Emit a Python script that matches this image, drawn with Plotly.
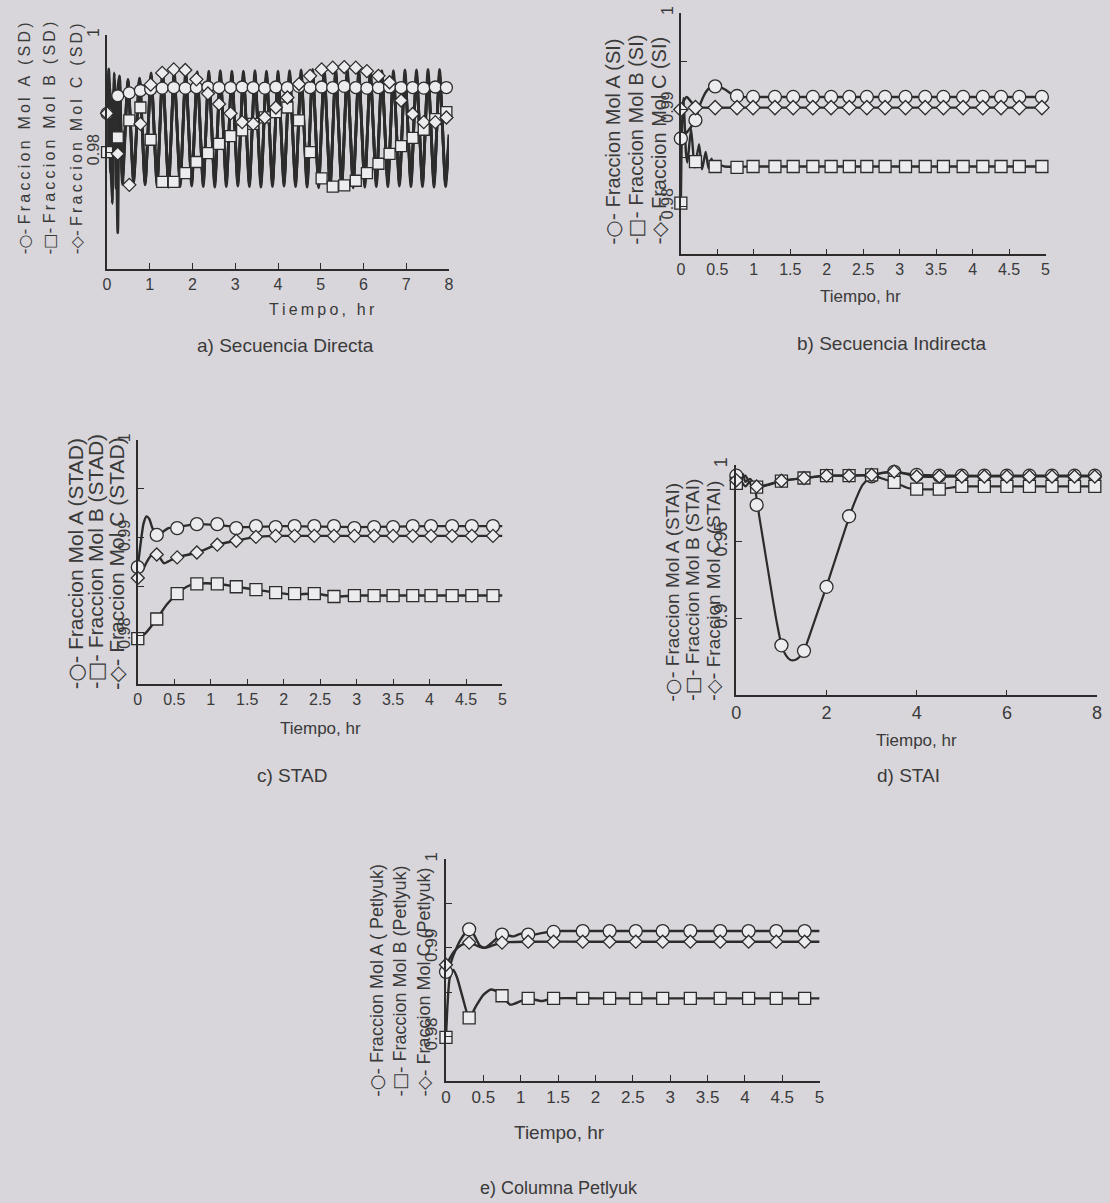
import plotly.graph_objects as go

# ---------------- DATA ----------------
# a) Secuencia Directa (SD)
t_sd = [0, 0.04, 0.08, 0.12, 0.17, 0.21, 0.25, 0.29, 0.36, 0.49, 0.62, 0.76, 0.89,
        1.03, 1.17, 1.30, 1.44, 1.57, 1.71, 1.84, 1.98, 2.11, 2.25, 2.38, 2.52, 2.65, 2.79, 2.92,
        3.06, 3.19, 3.33, 3.46, 3.60, 3.73, 3.87, 4.00, 4.14, 4.27, 4.41, 4.54, 4.68, 4.81, 4.95,
        5.08, 5.22, 5.35, 5.49, 5.62, 5.76, 5.89, 6.03, 6.16, 6.30, 6.43, 6.57, 6.70, 6.84, 6.97,
        7.11, 7.24, 7.38, 7.51, 7.65, 7.78, 7.92, 8.00]
sd_A = [0.9870, 0.9942, 0.9795, 0.9712, 0.9935, 0.9852, 0.9662, 0.9928, 0.9760, 0.9924, 0.9752, 0.9926, 0.9748,
        0.9935, 0.9742, 0.9938, 0.9740, 0.9939, 0.9741, 0.9938, 0.9742,
        0.9937, 0.9741, 0.9938, 0.9740, 0.9939, 0.9741, 0.9938,
        0.9742, 0.9938, 0.9741, 0.9939, 0.9740, 0.9938, 0.9741,
        0.9938, 0.9742, 0.9939, 0.9741, 0.9940, 0.9740, 0.9941, 0.9739,
        0.9942, 0.9738, 0.9942, 0.9738, 0.9942, 0.9739, 0.9941,
        0.9740, 0.9940, 0.9741, 0.9939, 0.9741, 0.9939, 0.9742, 0.9940,
        0.9741, 0.9940, 0.9741, 0.9941, 0.9740, 0.9941, 0.9741, 0.9825]
sd_B = [0.9800, 0.9930, 0.9765, 0.9880, 0.9908, 0.9738, 0.9872, 0.9918, 0.9745, 0.9918, 0.9748, 0.9922, 0.9744,
        0.9930, 0.9747, 0.9932, 0.9746, 0.9931, 0.9748, 0.9932, 0.9747,
        0.9931, 0.9746, 0.9932, 0.9747, 0.9931, 0.9748, 0.9932,
        0.9747, 0.9931, 0.9746, 0.9932, 0.9747, 0.9931, 0.9748,
        0.9932, 0.9747, 0.9933, 0.9746, 0.9934, 0.9745, 0.9935, 0.9744,
        0.9936, 0.9743, 0.9936, 0.9744, 0.9935, 0.9745, 0.9934,
        0.9746, 0.9933, 0.9747, 0.9932, 0.9747, 0.9931, 0.9748, 0.9932,
        0.9747, 0.9932, 0.9746, 0.9933, 0.9747, 0.9932, 0.9746, 0.9818]
sd_C = [0.9865, 0.9925, 0.9890, 0.9780, 0.9922, 0.9790, 0.9905, 0.9930, 0.9755, 0.9921, 0.9758, 0.9924, 0.9750,
        0.9926, 0.9752, 0.9927, 0.9751, 0.9928, 0.9752, 0.9927, 0.9753,
        0.9926, 0.9752, 0.9927, 0.9751, 0.9928, 0.9752, 0.9927,
        0.9753, 0.9926, 0.9752, 0.9927, 0.9751, 0.9928, 0.9752,
        0.9927, 0.9753, 0.9928, 0.9752, 0.9929, 0.9751, 0.9930, 0.9750,
        0.9931, 0.9749, 0.9931, 0.9749, 0.9931, 0.9750, 0.9930,
        0.9751, 0.9929, 0.9752, 0.9928, 0.9752, 0.9927, 0.9753, 0.9928,
        0.9752, 0.9927, 0.9751, 0.9928, 0.9752, 0.9927, 0.9751, 0.9830]
tm_sd = [0, 0.25, 0.52, 0.78, 1.02, 1.29, 1.56, 1.83, 2.09, 2.36, 2.62, 2.89, 3.16, 3.42, 3.69, 3.95,
         4.22, 4.49, 4.75, 5.02, 5.28, 5.55, 5.82, 6.08, 6.35, 6.61, 6.88, 7.15, 7.41, 7.68, 7.94]
sdm_A = [0.9866, 0.9896, 0.9901, 0.9905, 0.9907, 0.9909, 0.9910, 0.9909, 0.9910, 0.9911, 0.9910, 0.9910,
         0.9911, 0.9910, 0.9909, 0.9911, 0.9910, 0.9912, 0.9910, 0.9911, 0.9910, 0.9912, 0.9910, 0.9909,
         0.9910, 0.9911, 0.9910, 0.9910, 0.9909, 0.9911, 0.9910]
sdm_B = [0.9800, 0.9825, 0.9854, 0.9876, 0.9821, 0.9749, 0.9749, 0.9764, 0.9783, 0.9798, 0.9814, 0.9827,
         0.9837, 0.9848, 0.9859, 0.9868, 0.9876, 0.9854, 0.9800, 0.9755, 0.9741, 0.9743, 0.9751, 0.9764,
         0.9780, 0.9797, 0.9810, 0.9824, 0.9838, 0.9856, 0.9868]
sdm_C = [0.9866, 0.9797, 0.9744, 0.9848, 0.9915, 0.9935, 0.9941, 0.9940, 0.9924, 0.9900, 0.9882, 0.9866,
         0.9851, 0.9848, 0.9859, 0.9876, 0.9893, 0.9916, 0.9930, 0.9941, 0.9944, 0.9945, 0.9944, 0.9938,
         0.9930, 0.9919, 0.9888, 0.9865, 0.9851, 0.9851, 0.9859]

# b) Secuencia Indirecta (SI)
si_tA = [0, 0.1, 0.2, 0.25, 0.3, 0.35, 0.4, 0.5, 0.6, 0.7, 0.8, 1.0, 2.0, 3.0, 4.0, 5.0]
si_A = [0.9870, 0.9878, 0.9889, 0.9902, 0.9912, 0.9919, 0.9923, 0.9924, 0.9921, 0.9916, 0.9913,
        0.9913, 0.9913, 0.9913, 0.9913, 0.9913]
si_tB = [0, 0.015, 0.035, 0.05, 0.07, 0.09, 0.14, 0.19, 0.25, 0.29, 0.34, 0.38, 0.42, 0.46, 0.5,
         0.6, 1.0, 2.0, 3.0, 4.0, 5.0]
si_B = [0.9803, 0.9880, 0.9912, 0.9890, 0.9855, 0.9845, 0.9880, 0.9840, 0.9864, 0.9838, 0.9856,
        0.9839, 0.9849, 0.9840, 0.9843, 0.9841, 0.9841, 0.9841, 0.9841, 0.9841, 0.9841]
si_tC = [0, 0.04, 0.08, 0.13, 0.2, 0.3, 1.0, 2.0, 3.0, 4.0, 5.0]
si_C = [0.9900, 0.9909, 0.9913, 0.9909, 0.9903, 0.9902, 0.9902, 0.9902, 0.9902, 0.9902, 0.9902]
tm_si = [0, 0.2, 0.47, 0.77, 0.99, 1.29, 1.54, 1.81, 2.06, 2.31, 2.55, 2.8, 3.08, 3.35, 3.6, 3.87,
         4.14, 4.39, 4.64, 4.95]
sim_A = [0.9870, 0.9889, 0.9924, 0.9914, 0.9913, 0.9913, 0.9913, 0.9913, 0.9913, 0.9913, 0.9913,
         0.9913, 0.9913, 0.9913, 0.9913, 0.9913, 0.9913, 0.9913, 0.9913, 0.9913]
sim_B = [0.9803, 0.9846, 0.9841, 0.9840, 0.9841, 0.9841, 0.9841, 0.9841, 0.9841, 0.9841, 0.9841,
         0.9841, 0.9841, 0.9841, 0.9841, 0.9841, 0.9841, 0.9841, 0.9841, 0.9841]
sim_C = [0.9900, 0.9902, 0.9902, 0.9902, 0.9902, 0.9902, 0.9902, 0.9902, 0.9902, 0.9902, 0.9902,
         0.9902, 0.9902, 0.9902, 0.9902, 0.9902, 0.9902, 0.9902, 0.9902, 0.9902]

# c) STAD
stad_tA = [0, 0.04, 0.08, 0.12, 0.16, 0.2, 0.26, 0.34, 0.42, 0.54, 0.8, 1.1, 1.4, 2.0, 3.0, 4.0, 5.0]
stad_A = [0.9870, 0.9895, 0.9915, 0.9922, 0.9919, 0.9910, 0.9903, 0.9906, 0.9910, 0.9911, 0.9914,
          0.9913, 0.9911, 0.9912, 0.9911, 0.9912, 0.9912]
stad_tB = [0, 0.1, 0.26, 0.4, 0.54, 0.7, 0.81, 1.09, 1.35, 1.62, 1.89, 2.15, 2.42, 2.69, 3.0, 4.0, 5.0]
stad_B = [0.9797, 0.9802, 0.9817, 0.9832, 0.9843, 0.9851, 0.9853, 0.9853, 0.9850, 0.9847, 0.9844,
          0.9842, 0.9843, 0.9840, 0.9841, 0.9841, 0.9841]
stad_tC = [0, 0.03, 0.06, 0.1, 0.16, 0.24, 0.3, 0.36, 0.42, 0.54, 0.81, 1.09, 1.35, 1.62, 1.89, 2.2,
           3.0, 4.0, 5.0]
stad_C = [0.9859, 0.9873, 0.9866, 0.9872, 0.9880, 0.9885, 0.9880, 0.9874, 0.9876, 0.9880, 0.9885,
          0.9893, 0.9897, 0.9901, 0.9902, 0.9902, 0.9902, 0.9902, 0.9902]
tm_stad = [0, 0.26, 0.54, 0.81, 1.09, 1.35, 1.62, 1.89, 2.15, 2.42, 2.69, 2.97, 3.24, 3.5, 3.77,
           4.02, 4.31, 4.58, 4.87]
stadm_A = [0.9870, 0.9903, 0.9910, 0.9914, 0.9914, 0.9910, 0.9912, 0.9911, 0.9912, 0.9912, 0.9912,
           0.9910, 0.9911, 0.9911, 0.9912, 0.9912, 0.9912, 0.9912, 0.9912]
stadm_B = [0.9797, 0.9817, 0.9843, 0.9853, 0.9853, 0.9850, 0.9847, 0.9844, 0.9843, 0.9843, 0.9840,
           0.9841, 0.9841, 0.9841, 0.9841, 0.9841, 0.9841, 0.9841, 0.9841]
stadm_C = [0.9859, 0.9883, 0.9880, 0.9885, 0.9893, 0.9897, 0.9901, 0.9902, 0.9902, 0.9902, 0.9902,
           0.9902, 0.9902, 0.9902, 0.9902, 0.9902, 0.9902, 0.9902, 0.9902]

# d) STAI
stai_tA = [0, 0.05, 0.1, 0.15, 0.2, 0.3, 0.4, 0.45, 0.5, 0.6, 0.7, 0.8, 0.9, 1.0, 1.1, 1.2, 1.3, 1.4,
           1.5, 1.6, 1.8, 2.0, 2.2, 2.4, 2.6, 2.8, 3.0, 3.25, 3.5, 4.0, 5.0, 6.0, 7.0, 8.0]
stai_A = [0.992, 0.996, 0.990, 0.994, 0.989, 0.991, 0.987, 0.978, 0.968, 0.950, 0.932, 0.914, 0.897,
          0.883, 0.876, 0.873, 0.873, 0.875, 0.879, 0.887, 0.904, 0.921, 0.939, 0.957, 0.974, 0.987,
          0.9925, 0.995, 0.9955, 0.9937, 0.993, 0.993, 0.993, 0.993]
stai_tB = [0, 0.05, 0.1, 0.2, 0.3, 0.5, 1.0, 1.5, 2.0, 2.5, 3.0, 3.2, 3.5, 3.8, 4.0, 4.5, 5.0, 5.5,
           6.0, 7.0, 8.0]
stai_B = [0.988, 0.993, 0.990, 0.986, 0.989, 0.9855, 0.9895, 0.9915, 0.993, 0.993, 0.9935, 0.9915,
          0.9886, 0.985, 0.9843, 0.9843, 0.986, 0.986, 0.986, 0.986, 0.986]
stai_tC = [0, 0.05, 0.1, 0.2, 0.3, 0.5, 1.0, 1.5, 2.0, 2.5, 3.0, 3.5, 4.0, 5.0, 6.0, 7.0, 8.0]
stai_C = [0.990, 0.994, 0.991, 0.993, 0.988, 0.986, 0.9897, 0.9914, 0.993, 0.993, 0.9935, 0.9957,
          0.9925, 0.9925, 0.9925, 0.9925, 0.9925]
tm_stai = [0, 0.45, 1.0, 1.5, 2.0, 2.5, 3.0, 3.5, 4.0, 4.5, 5.0, 5.5, 6.0, 6.5, 7.0, 7.5, 7.95]
staim_A = [0.993, 0.974, 0.8826, 0.879, 0.9207, 0.9666, 0.9925, 0.9955, 0.9935, 0.993, 0.993, 0.993,
           0.993, 0.993, 0.993, 0.993, 0.993]
staim_B = [0.988, 0.9855, 0.9895, 0.9915, 0.993, 0.993, 0.9935, 0.9886, 0.9843, 0.9843, 0.986, 0.986,
           0.986, 0.986, 0.986, 0.986, 0.986]
staim_C = [0.990, 0.986, 0.9897, 0.9914, 0.993, 0.993, 0.9935, 0.9957, 0.9925, 0.9925, 0.9925, 0.9925,
           0.9925, 0.9925, 0.9925, 0.9925, 0.9925]

# e) Columna Petlyuk
pet_tA = [0, 0.05, 0.1, 0.2, 0.31, 0.38, 0.45, 0.52, 0.6, 0.7, 0.78, 0.9, 1.0, 1.1, 1.3, 1.5, 2.0,
          3.0, 4.0, 5.0]
pet_A = [0.9873, 0.9880, 0.9892, 0.9910, 0.9921, 0.9914, 0.9903, 0.9900, 0.9905, 0.9912, 0.9915,
         0.9913, 0.9916, 0.9914, 0.9917, 0.9919, 0.9919, 0.9919, 0.9919, 0.9919]
pet_tB = [0, 0.02, 0.05, 0.1, 0.15, 0.22, 0.31, 0.4, 0.5, 0.6, 0.68, 0.75, 0.86, 1.0, 1.1, 1.28, 1.44,
          2.0, 3.0, 4.0, 5.0]
pet_B = [0.9799, 0.9835, 0.9866, 0.9875, 0.9866, 0.9845, 0.9821, 0.9834, 0.9847, 0.9853, 0.9851,
         0.9846, 0.9836, 0.9840, 0.9843, 0.9840, 0.9843, 0.9843, 0.9843, 0.9843, 0.9843]
pet_tC = [0, 0.05, 0.1, 0.2, 0.31, 0.4, 0.5, 0.6, 0.75, 1.1, 2.0, 3.0, 4.0, 5.0]
pet_C = [0.9881, 0.9888, 0.9895, 0.9903, 0.9906, 0.9903, 0.9900, 0.9902, 0.9906, 0.9907, 0.9907,
         0.9907, 0.9907, 0.9907]
tm_pet = [0, 0.31, 0.75, 1.1, 1.44, 1.83, 2.19, 2.54, 2.9, 3.27, 3.67, 4.05, 4.42, 4.8]
petm_A = [0.9873, 0.9921, 0.9915, 0.9915, 0.9918, 0.9919, 0.9919, 0.9919, 0.9919, 0.9919, 0.9919,
          0.9919, 0.9919, 0.9919]
petm_B = [0.9799, 0.9821, 0.9846, 0.9843, 0.9843, 0.9843, 0.9843, 0.9843, 0.9843, 0.9843, 0.9843,
          0.9843, 0.9843, 0.9843]
petm_C = [0.9881, 0.9906, 0.9906, 0.9907, 0.9907, 0.9907, 0.9907, 0.9907, 0.9907, 0.9907, 0.9907,
          0.9907, 0.9907, 0.9907]

# Text
legend_sd = ["Fraccion Mol A (SD)", "Fraccion Mol B (SD)", "Fraccion Mol C (SD)"]
legend_si = ["Fraccion Mol A (SI)", "Fraccion Mol B (SI)", "Fraccion Mol C (SI)"]
legend_stad = ["Fraccion Mol A (STAD)", "Fraccion Mol B (STAD)", "Fraccion Mol C (STAD)"]
legend_stai = ["Fraccion Mol A (STAI)", "Fraccion Mol B (STAI)", "Fraccion Mol C (STAI)"]
legend_pet = ["Fraccion Mol A ( Petlyuk)", "Fraccion Mol B (Petlyuk)", "Fraccion Mol C (Petlyuk)"]
captions = ["a) Secuencia Directa", "b) Secuencia Indirecta", "c) STAD", "d) STAI", "e) Columna Petlyuk"]
x_title = "Tiempo, hr"
xt_8 = [0, 1, 2, 3, 4, 5, 6, 7, 8]
xt_5 = [0, 0.5, 1, 1.5, 2, 2.5, 3, 3.5, 4, 4.5, 5]
xt_8b = [0, 2, 4, 6, 8]
yt_sd = [0.96, 0.98, 1.0]
yl_sd = ["", "0.98", "1"]
yt_fine = [0.975, 0.98, 0.985, 0.99, 0.995, 1.0]
yl_fine = ["", "0.98", "", "0.99", "", "1"]
yt_stai = [0.85, 0.9, 0.95, 1.0]
yl_stai = ["", "0.9", "0.95", "1"]

# ---------------- STYLE / LAYOUT ----------------
W, H = 1110, 1203
BG = "#d8d6da"
INK = "#2c2c2c"
TXT = "#3a3a3a"
FILL = "#ecebee"
FONT = "Arial"
SYMS = ["circle", "square", "diamond"]
LEG_SYM = ["\u25cb", "\u25a1", "\u25c7"]


def spaced(s):
    return "\u2009".join(s)


def fmt(v):
    return ("%g" % v)


def leg_text(k, lab, sp):
    sym = '<span style="font-family:DejaVu Sans">-' + LEG_SYM[k] + '-</span>'
    return sym + " " + (spaced(lab) if sp else lab)


panels = [
    dict(px=(103, 448), py=(27, 263), xr=[0, 8], yr=[0.96, 1.0], xt=xt_8, yt=yt_sd, yl=yl_sd,
         series=[(t_sd, sd_A), (t_sd, sd_B), (t_sd, sd_C)], tm=tm_sd, mk=[sdm_A, sdm_B, sdm_C],
         msize=[12, 11, 10], lw=2.8, tickfont=16, spaced=True,
         legend=legend_sd, legx=[20, 45, 72], legb=250, legfont=16,
         title_xy=(320, 304), title_font=16, cap_xy=(283, 340), cap_font=19),
    dict(px=(682, 1050), py=(5, 248), xr=[0, 5], yr=[0.975, 1.0], xt=xt_5, yt=yt_fine, yl=yl_fine,
         series=[(si_tA, si_A), (si_tB, si_B), (si_tC, si_C)], tm=tm_si, mk=[sim_A, sim_B, sim_C],
         msize=[13, 12, 11], lw=2.4, tickfont=16, spaced=False,
         legend=legend_si, legx=[614, 637, 660], legb=240, legfont=20,
         title_xy=(863, 290), title_font=17, cap_xy=(895, 338), cap_font=19),
    dict(px=(134, 502), py=(435, 681), xr=[0, 5], yr=[0.975, 1.0], xt=xt_5, yt=yt_fine, yl=yl_fine,
         series=[(stad_tA, stad_A), (stad_tB, stad_B), (stad_tC, stad_C)], tm=tm_stad,
         mk=[stadm_A, stadm_B, stadm_C], msize=[13, 12, 10], lw=2.4, tickfont=16, spaced=False,
         legend=legend_stad, legx=[72, 92, 113], legb=688, legfont=21,
         title_xy=(318, 725), title_font=17, cap_xy=(290, 773), cap_font=19),
    dict(px=(738, 1102), py=(460, 692), xr=[0, 8], yr=[0.85, 1.0], xt=xt_8b, yt=yt_stai, yl=yl_stai,
         series=[(stai_tA, stai_A), (stai_tB, stai_B), (stai_tC, stai_C)], tm=tm_stai,
         mk=[staim_A, staim_B, staim_C], msize=[13, 12, 10], lw=2.2, tickfont=18, spaced=False,
         legend=legend_stai, legx=[673, 694, 715], legb=700, legfont=19,
         title_xy=(920, 737), title_font=17, cap_xy=(912, 773), cap_font=19),
    dict(px=(445, 822), py=(857, 1080), xr=[0, 5], yr=[0.975, 1.0], xt=xt_5, yt=yt_fine, yl=yl_fine,
         series=[(pet_tA, pet_A), (pet_tB, pet_B), (pet_tC, pet_C)], tm=tm_pet,
         mk=[petm_A, petm_B, petm_C], msize=[13, 12, 10], lw=2.4, tickfont=17, spaced=False,
         legend=legend_pet, legx=[375, 398, 422], legb=1098, legfont=18,
         title_xy=(560, 1132), title_font=19, cap_xy=(559, 1188), cap_font=18),
]

fig = go.Figure()
annotations = []
layout_axes = {}

for i, p in enumerate(panels):
    sfx = "" if i == 0 else str(i + 1)
    xa, ya = "x" + sfx, "y" + sfx
    for (t, v) in p["series"]:
        fig.add_trace(go.Scatter(x=t, y=v, mode="lines", xaxis=xa, yaxis=ya,
                                 line=dict(color=INK, width=p["lw"], shape="spline", smoothing=0.6),
                                 showlegend=False, hoverinfo="skip", cliponaxis=False))
    for k, vals in enumerate(p["mk"]):
        fig.add_trace(go.Scatter(x=p["tm"], y=vals, mode="markers", xaxis=xa, yaxis=ya,
                                 marker=dict(symbol=SYMS[k], size=p["msize"][k], color=FILL,
                                             line=dict(color=INK, width=1.3)),
                                 showlegend=False, hoverinfo="skip", cliponaxis=False))
    x0, x1 = p["px"]
    y0, y1 = p["py"]
    layout_axes["xaxis" + sfx] = dict(
        domain=[x0 / W, x1 / W], range=p["xr"], anchor=ya, showgrid=False, zeroline=False,
        showline=True, linecolor=INK, linewidth=1.6, ticks="inside", ticklen=6, tickwidth=1.3,
        tickcolor=INK, tickvals=p["xt"], ticktext=[fmt(v) for v in p["xt"]],
        tickfont=dict(family=FONT, size=p["tickfont"], color=TXT), fixedrange=True)
    layout_axes["yaxis" + sfx] = dict(
        domain=[1 - y1 / H, 1 - y0 / H], range=p["yr"], anchor=xa, showgrid=False, zeroline=False,
        showline=True, linecolor=INK, linewidth=1.6, ticks="inside", ticklen=6, tickwidth=1.3,
        tickcolor=INK, tickvals=p["yt"], ticktext=p["yl"], tickangle=-90,
        tickfont=dict(family=FONT, size=p["tickfont"], color=TXT), fixedrange=True)
    for k, lab in enumerate(p["legend"]):
        annotations.append(dict(text=leg_text(k, lab, p["spaced"]), xref="paper", yref="paper",
                                x=p["legx"][k] / W, y=1 - p["legb"] / H, xanchor="center",
                                yanchor="bottom", textangle=-90, showarrow=False,
                                font=dict(family=FONT, size=p["legfont"], color=TXT)))
    tx, ty = p["title_xy"]
    annotations.append(dict(text=(spaced(x_title) if p["spaced"] else x_title), xref="paper",
                            yref="paper", x=tx / W, y=1 - ty / H, xanchor="center", yanchor="middle",
                            showarrow=False, font=dict(family=FONT, size=p["title_font"], color=TXT)))
    cx, cy = p["cap_xy"]
    annotations.append(dict(text=captions[i], xref="paper", yref="paper", x=cx / W, y=1 - cy / H,
                            xanchor="center", yanchor="middle", showarrow=False,
                            font=dict(family=FONT, size=p["cap_font"], color=TXT)))

fig.update_layout(width=W, height=H, margin=dict(l=0, r=0, t=0, b=0),
                  paper_bgcolor=BG, plot_bgcolor=BG, showlegend=False,
                  annotations=annotations, **layout_axes)

fig.write_html("out.html", config={"displayModeBar": False},
               post_script="document.body.style.margin='0';document.body.style.background='%s';" % BG)
